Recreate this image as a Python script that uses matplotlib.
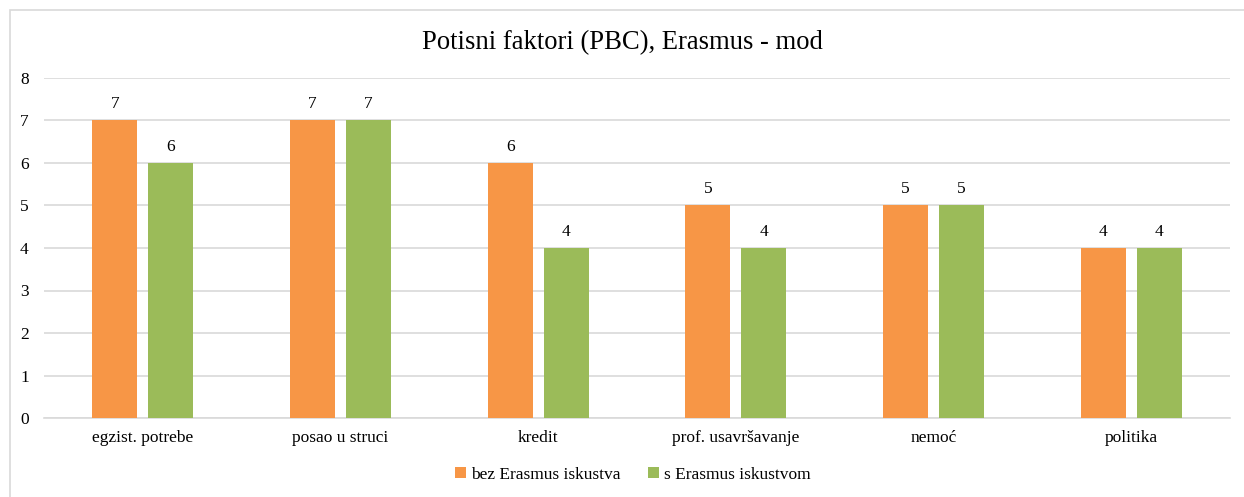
import numpy as np
import matplotlib.pyplot as plt
from matplotlib.patches import Rectangle

categories = ["egzist. potrebe", "posao u struci", "kredit", "prof. usavršavanje", "nemoć", "politika"]
bez = [7, 7, 6, 5, 5, 4]
s_erasmus = [6, 7, 4, 4, 5, 4]
series_names = ["bez Erasmus iskustva", "s Erasmus iskustvom"]

plt.rcParams['font.family'] = ['Liberation Serif', 'DejaVu Serif']

fig = plt.figure(figsize=(12.44, 4.97), dpi=100)
ax = fig.add_axes([44/1244, 1-418/497, (1230-44)/1244, (418-78)/497])

# chart border
fig.patches.append(Rectangle((9.5/1244, -0.1), 1.2, 1-10/497+0.1, transform=fig.transFigure,
                             fill=False, edgecolor='#d9d9d9', linewidth=1.2))

x = np.arange(len(categories))
w = 0.228
gap = 0.056
b1 = ax.bar(x - (w+gap)/2, bez, w, color='#F79646', label=series_names[0], zorder=3)
b2 = ax.bar(x + (w+gap)/2, s_erasmus, w, color='#9BBB59', label=series_names[1], zorder=3)
ax.bar_label(b1, padding=6, fontsize=12.5)
ax.bar_label(b2, padding=6, fontsize=12.5)

ax.set_xlim(-0.5, len(categories)-0.5)
ax.set_ylim(0, 8)
ax.set_yticks(range(0, 9))
ax.set_xticks(x)
ax.set_xticklabels(categories)
ax.tick_params(axis='both', length=0, labelsize=12.5)
ax.tick_params(axis='x', pad=9)
ax.tick_params(axis='y', pad=11)
ax.grid(axis='y', color='#d9d9d9', linewidth=1.2, zorder=0)
for sp in ['top', 'right', 'left']:
    ax.spines[sp].set_visible(False)
ax.spines['bottom'].set_color('#d9d9d9')
ax.spines['bottom'].set_linewidth(1.2)

fig.text(0.5, 1-43/497, "Potisni faktori (PBC), Erasmus - mod", ha='center', va='center', fontsize=19.2)

fig.legend(loc='center', bbox_to_anchor=(633/1244, 1-475/497), ncol=2, frameon=False,
           fontsize=12.5, handlelength=0.6, handleheight=0.6, handletextpad=0.3, columnspacing=1.6)

fig.savefig("out.png", dpi=100)
